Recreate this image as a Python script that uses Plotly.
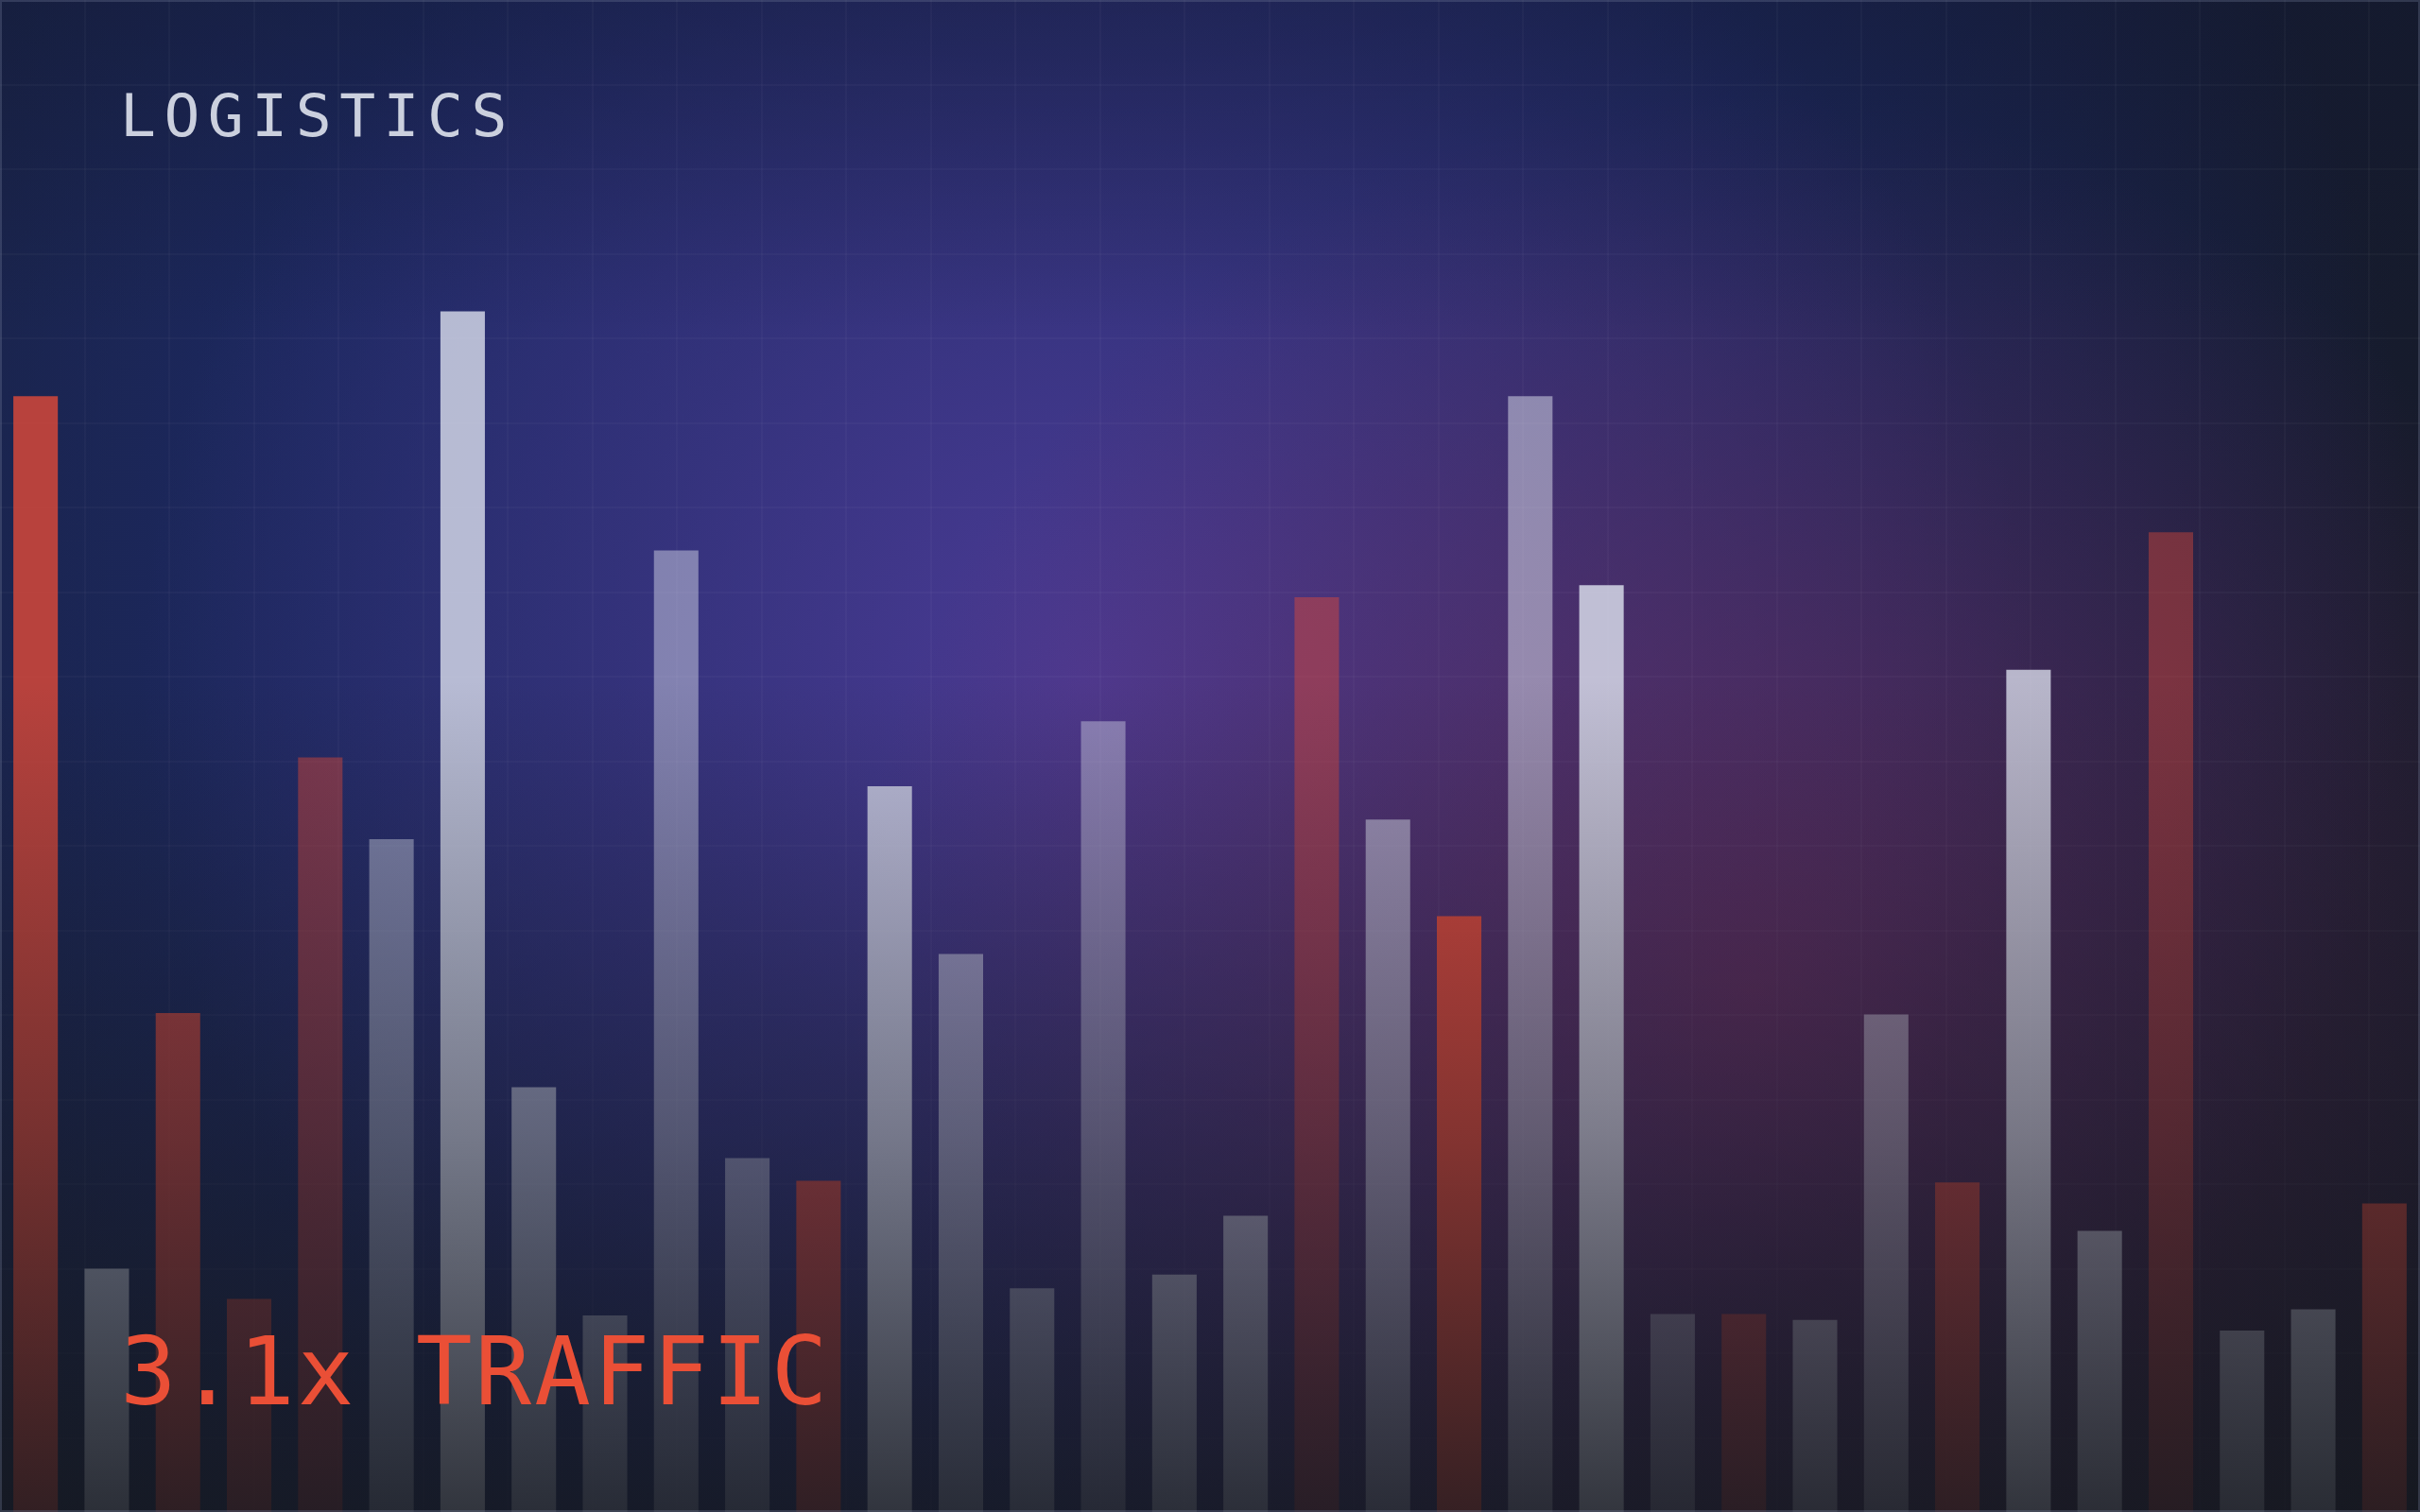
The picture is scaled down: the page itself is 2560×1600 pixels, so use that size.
import base64
import plotly.graph_objects as go

# ---------------- data ----------------
bar_index = list(range(34))
values = [73.8, 16.1, 33.0, 14.1, 49.9, 44.5, 79.4, 28.1, 13.0, 63.6,
          23.4, 21.9, 48.0, 36.9, 14.8, 52.3, 15.7, 19.6, 60.5, 45.8,
          39.4, 73.8, 61.3, 13.1, 13.1, 12.7, 32.9, 21.8, 55.7, 18.6,
          64.8, 12.0, 13.4, 20.4]
kinds = ["R", "W", "R", "R", "R", "W", "W", "W", "W", "W",
         "W", "R", "W", "W", "W", "W", "W", "W", "R", "W",
         "R", "W", "W", "W", "R", "W", "W", "R", "W", "W",
         "R", "W", "W", "R"]
alphas = [0.80, 0.62, 0.68, 0.55, 0.48, 0.46, 0.78, 0.58, 0.50, 0.45,
          0.45, 0.72, 0.76, 0.52, 0.50, 0.42, 0.58, 0.58, 0.45, 0.52,
          0.88, 0.50, 0.80, 0.40, 0.50, 0.50, 0.45, 0.62, 0.76, 0.58,
          0.42, 0.50, 0.55, 0.62]
title_text = "LOGISTICS"
kpi_text = "3.1x TRAFFIC"

W, H = 2560, 1600
RED = (224, 74, 56)
WHITE = (223, 227, 240)

colors = []
for k, a in zip(kinds, alphas):
    r, g, b = RED if k == "R" else WHITE
    colors.append(f"rgba({r},{g},{b},{a})")


def svg_uri(svg):
    return "data:image/svg+xml;base64," + base64.b64encode(svg.encode()).decode()


bg_svg = f"""<svg xmlns='http://www.w3.org/2000/svg' width='{W}' height='{H}' viewBox='0 0 {W} {H}' preserveAspectRatio='none'>
<defs>
<linearGradient id='base' x1='0' y1='0' x2='1' y2='0'>
<stop offset='0' stop-color='#18213f'/>
<stop offset='0.5' stop-color='#1a2452'/>
<stop offset='1' stop-color='#161b2c'/>
</linearGradient>
<radialGradient id='blue' gradientUnits='userSpaceOnUse' cx='1100' cy='600' r='1450'>
<stop offset='0' stop-color='#2a3486' stop-opacity='1'/>
<stop offset='0.55' stop-color='#1e2b6c' stop-opacity='0.7'/>
<stop offset='1' stop-color='#1e2b6c' stop-opacity='0'/>
</radialGradient>
<radialGradient id='purple' gradientUnits='userSpaceOnUse' cx='1150' cy='720' r='1000'>
<stop offset='0' stop-color='#4a3a94' stop-opacity='1'/>
<stop offset='0.5' stop-color='#453785' stop-opacity='0.5'/>
<stop offset='1' stop-color='#453785' stop-opacity='0'/>
</radialGradient>
<radialGradient id='mag' gradientUnits='userSpaceOnUse' cx='1850' cy='1050' r='950'>
<stop offset='0' stop-color='#6e2c58' stop-opacity='0.7'/>
<stop offset='1' stop-color='#6e2c58' stop-opacity='0'/>
</radialGradient>
<linearGradient id='topdark' x1='0' y1='0' x2='0' y2='1'>
<stop offset='0' stop-color='#121830' stop-opacity='0.4'/>
<stop offset='0.22' stop-color='#121830' stop-opacity='0'/>
</linearGradient>
</defs>
<rect width='{W}' height='{H}' fill='url(#base)'/>
<rect width='{W}' height='{H}' fill='url(#blue)'/>
<rect width='{W}' height='{H}' fill='url(#purple)'/>
<rect width='{W}' height='{H}' fill='url(#mag)'/>
<rect width='{W}' height='{H}' fill='url(#topdark)'/>
</svg>"""

overlay_svg = f"""<svg xmlns='http://www.w3.org/2000/svg' width='{W}' height='{H}' viewBox='0 0 {W} {H}' preserveAspectRatio='none'>
<defs>
<linearGradient id='fade' x1='0' y1='0' x2='0' y2='1'>
<stop offset='0' stop-color='#15181e' stop-opacity='0'/>
<stop offset='0.45' stop-color='#15181e' stop-opacity='0'/>
<stop offset='0.75' stop-color='#15181e' stop-opacity='0.4'/>
<stop offset='1' stop-color='#15181e' stop-opacity='0.82'/>
</linearGradient>
</defs>
<rect width='{W}' height='{H}' fill='url(#fade)'/>
</svg>"""

fig = go.Figure()
fig.add_trace(go.Bar(
    x=bar_index, y=values, width=0.625,
    marker=dict(color=colors, line=dict(width=0)),
    hoverinfo="skip", showlegend=False,
))

px_per_x = W / 34.0
px_per_y = H / 100.0
grid = 89.5
grid_color = "rgba(255,255,255,0.028)"

fig.update_layout(
    width=W, height=H, autosize=False,
    margin=dict(l=0, r=0, t=0, b=0, pad=0),
    paper_bgcolor="rgba(0,0,0,0)", plot_bgcolor="rgba(0,0,0,0)",
    xaxis=dict(range=[-0.5, 33.5], showticklabels=False, zeroline=False,
               showgrid=True, gridcolor=grid_color, gridwidth=2,
               tick0=-0.5, dtick=grid / px_per_x, ticks="", fixedrange=True),
    yaxis=dict(range=[0, 100], showticklabels=False, zeroline=False,
               showgrid=True, gridcolor=grid_color, gridwidth=2,
               tick0=100, dtick=grid / px_per_y, ticks="", fixedrange=True),
    images=[
        dict(source=svg_uri(bg_svg), xref="paper", yref="paper", x=0, y=1,
             sizex=1, sizey=1, xanchor="left", yanchor="top",
             sizing="stretch", layer="below"),
        dict(source=svg_uri(overlay_svg), xref="paper", yref="paper", x=0, y=1,
             sizex=1, sizey=1, xanchor="left", yanchor="top",
             sizing="stretch", layer="above"),
    ],
    shapes=[dict(type="rect", xref="paper", yref="paper", x0=0, y0=0, x1=1, y1=1,
                 line=dict(color="rgba(120,130,160,0.3)", width=4),
                 fillcolor="rgba(0,0,0,0)", layer="above")],
    annotations=[
        dict(text=f"<span style='letter-spacing:8.5px'>{title_text}</span>",
             xref="paper", yref="paper", x=0.049, y=1 - 122.5 / H,
             xanchor="left", yanchor="middle", showarrow=False,
             font=dict(family="DejaVu Sans Mono", size=63, color="#cbd0de")),
        dict(text=f"<span style='letter-spacing:3px'>{kpi_text}</span>",
             xref="paper", yref="paper", x=0.049, y=1 - 1451 / H,
             xanchor="left", yanchor="middle", showarrow=False,
             font=dict(family="DejaVu Sans Mono", size=99, color="#ea4f36")),
    ],
    showlegend=False,
)

fig.write_html("out.html", config={"displayModeBar": False, "staticPlot": True},
               post_script="document.body.style.margin='0';document.body.style.overflow='hidden';")
